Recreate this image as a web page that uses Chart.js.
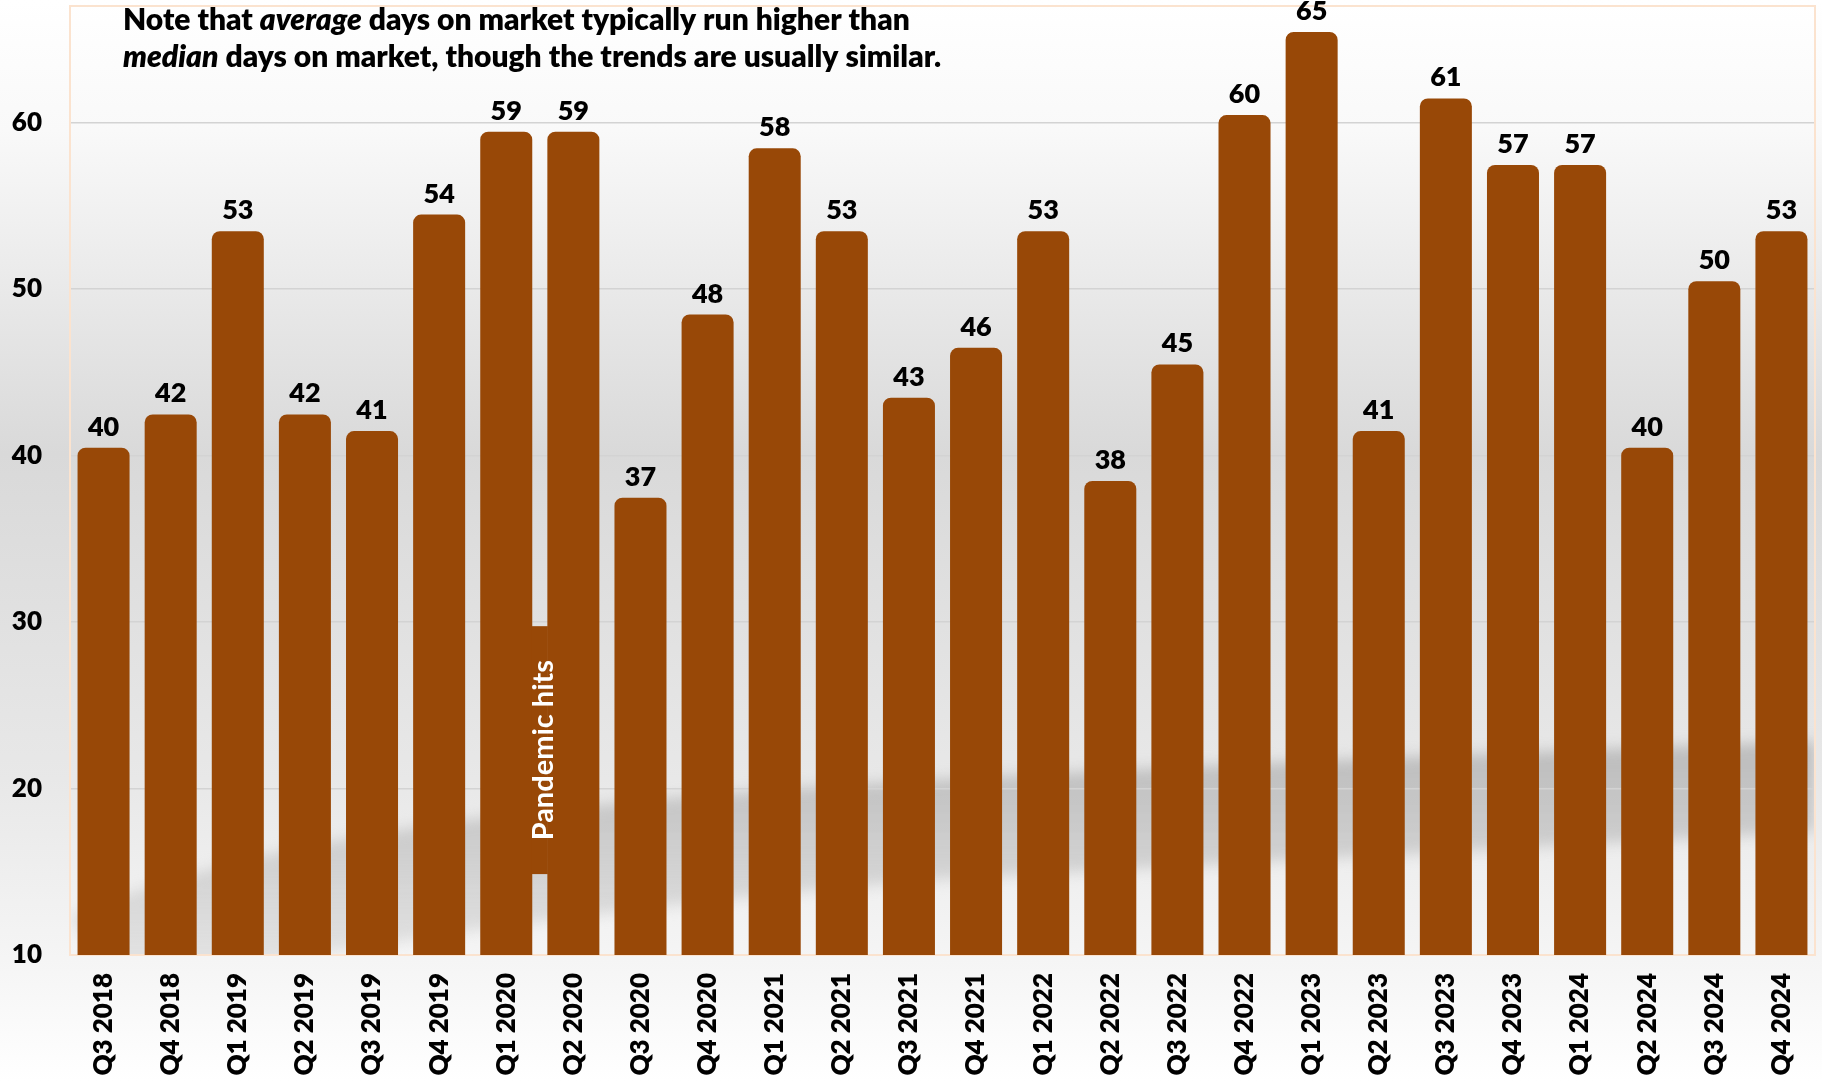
<!DOCTYPE html>
<html><head><meta charset="utf-8">
<script src="https://cdn.jsdelivr.net/npm/chart.js@4.4.1/dist/chart.umd.min.js"></script>
<style>html,body{margin:0;padding:0;background:#fff;overflow:hidden}#wrap{position:relative;width:1822px;height:1081px}</style>
</head><body><div id="wrap"><canvas id="c"></canvas></div>
<script>
// ---- data ----
const categories = ['Q3 2018','Q4 2018','Q1 2019','Q2 2019','Q3 2019','Q4 2019','Q1 2020','Q2 2020','Q3 2020','Q4 2020','Q1 2021','Q2 2021','Q3 2021','Q4 2021','Q1 2022','Q2 2022','Q3 2022','Q4 2022','Q1 2023','Q2 2023','Q3 2023','Q4 2023','Q1 2024','Q2 2024','Q3 2024','Q4 2024'];
const avgDaysOnMarket = [40.47,42.47,53.47,42.47,41.47,54.47,59.45,59.45,37.47,48.47,58.45,53.47,43.47,46.47,53.47,38.47,45.47,60.45,65.44,41.47,61.45,57.45,57.45,40.47,50.47,53.47];
const yTickValues = [10,20,30,40,50,60];
const yMin = 10, yMax = 67;
const noteLine1 = [['Note that ',false],['average',true],[' days on market typically run higher than',false]];
const noteLine2 = [['median',true],[' days on market, though the trends are usually similar.',false]];
const pandemicText = 'Pandemic hits';
const pandemicBetween = [6,7];      // category indices the note sits between
const pandemicRange = [14.86, 29.75]; // value range of the note box

const BAR = '#984807';
const FONT = 'Lato, "Open Sans", sans-serif';
const W8 = '800';

const bgPlugin = {
  id:'bg',
  beforeDraw(chart){
    const {ctx, width, height, chartArea:a} = chart;
    ctx.save();
    const g = ctx.createLinearGradient(0,0,0,height);
    g.addColorStop(0,'#ffffff');
    g.addColorStop(0.12,'#f9f9f9');
    g.addColorStop(0.42,'#d9d9d9');
    g.addColorStop(0.72,'#e8e8e8');
    g.addColorStop(0.9,'#f6f6f6');
    g.addColorStop(1,'#ffffff');
    ctx.fillStyle = g;
    ctx.fillRect(0,0,width,height);
    // decorative soft ribbon shadow in the lower part of the plot
    ctx.beginPath();
    ctx.rect(a.left,a.top,a.right-a.left,a.bottom-a.top);
    ctx.clip();
    const W = a.right-a.left, H = a.bottom-a.top;
    const px = f=>a.left+f*W, py = f=>a.top+f*H;
    ctx.filter = 'blur(7px)';
    ctx.beginPath();
    ctx.moveTo(px(0), py(0.96));
    ctx.bezierCurveTo(px(0.1), py(0.88), px(0.25), py(0.84), px(0.5), py(0.815));
    ctx.bezierCurveTo(px(0.7), py(0.795), px(0.85), py(0.785), px(1.0), py(0.775));
    ctx.lineTo(px(1.0), py(0.87));
    ctx.bezierCurveTo(px(0.85), py(0.885), px(0.7), py(0.9), px(0.5), py(0.92));
    ctx.bezierCurveTo(px(0.3), py(0.95), px(0.12), py(1.0), px(0.03), py(1.04));
    ctx.closePath();
    const sg = ctx.createLinearGradient(0,py(0.77),0,py(1));
    sg.addColorStop(0,'rgba(150,150,150,0.55)');
    sg.addColorStop(0.5,'rgba(175,175,175,0.5)');
    sg.addColorStop(1,'rgba(190,190,190,0.35)');
    ctx.fillStyle = sg;
    ctx.fill();
    ctx.filter = 'none';
    ctx.restore();
  },
  beforeDatasetsDraw(chart){
    const {ctx, chartArea:a} = chart;
    ctx.save();
    ctx.strokeStyle = '#fbe3cf';
    ctx.lineWidth = 2;
    ctx.strokeRect(a.left, a.top, a.right-a.left, a.bottom-a.top);
    ctx.restore();
  }
};

const labelPlugin = {
  id:'labels',
  afterDatasetsDraw(chart){
    const {ctx} = chart;
    const meta = chart.getDatasetMeta(0);
    const ys = chart.scales.y;
    ctx.save();
    // value labels
    ctx.fillStyle = '#000';
    ctx.font = W8 + ' 27px ' + FONT;
    ctx.textAlign = 'center';
    ctx.textBaseline = 'alphabetic';
    meta.data.forEach((el,i)=>{
      ctx.fillText(String(Math.round(avgDaysOnMarket[i])), el.x, el.y - 12);
    });
    // pandemic note
    const b0 = meta.data[pandemicBetween[0]], b1 = meta.data[pandemicBetween[1]];
    const x0 = b0.x + b0.width/2, x1 = b1.x - b1.width/2;
    const yTop = ys.getPixelForValue(pandemicRange[1]), yBot = ys.getPixelForValue(pandemicRange[0]);
    ctx.fillStyle = BAR;
    ctx.fillRect(x0-0.5, yTop, x1-x0+1, yBot-yTop);
    ctx.translate((x0+x1)/2 + 4, (yTop+yBot)/2);
    ctx.rotate(-Math.PI/2);
    ctx.fillStyle = '#fff';
    ctx.font = 'bold 29px ' + FONT;
    ctx.textAlign = 'center';
    ctx.textBaseline = 'middle';
    ctx.fillText(pandemicText, 0, 0);
    ctx.restore();
  },
  afterDraw(chart){
    const {ctx} = chart;
    ctx.save();
    ctx.fillStyle = '#000';
    ctx.textBaseline = 'alphabetic';
    ctx.textAlign = 'left';
    const fontFor = (it,s)=> (it?'italic ':'') + W8 + ' ' + s + 'px ' + FONT;
    const widthOf = (line,s)=> line.reduce((w,[t,it])=>{ctx.font=fontFor(it,s);return w+ctx.measureText(t).width;},0);
    const size = Math.min(33, 100*787/widthOf(noteLine1,100));
    const drawLine = (line,x,y)=>{ line.forEach(([t,it])=>{ctx.font=fontFor(it,size);ctx.fillText(t,x,y);x+=ctx.measureText(t).width;}); };
    drawLine(noteLine1, 123, 30);
    drawLine(noteLine2, 123, 67);
    ctx.restore();
  }
};

function build(){
  new Chart(document.getElementById('c'), {
    type:'bar',
    data:{ labels: categories, datasets:[{
      data: avgDaysOnMarket,
      backgroundColor: BAR,
      borderRadius: {topLeft:8, topRight:8, bottomLeft:0, bottomRight:0},
      borderSkipped: false,
      categoryPercentage: 1.0,
      barPercentage: 0.775
    }]},
    options:{
      responsive:true, maintainAspectRatio:false, animation:false, devicePixelRatio:1,
      layout:{padding:{top:6,right:7,left:0,bottom:0}},
      plugins:{legend:{display:false}, tooltip:{enabled:false}},
      scales:{
        x:{
          grid:{display:false, drawTicks:false}, border:{display:false},
          ticks:{color:'#000', font:{family:FONT, weight:W8, size:26}, minRotation:90, maxRotation:90, padding:18, autoSkip:false},
          afterFit(s){ s.height = 126; s.paddingLeft = 0; s.paddingRight = 0; }
        },
        y:{
          min:yMin, max:yMax,
          grid:{color:'#d3d3d3', lineWidth:1.5, drawTicks:false}, border:{display:false},
          ticks:{color:'#000', font:{family:FONT, weight:W8, size:26}, padding:28, stepSize:10},
          afterBuildTicks(s){ s.ticks = yTickValues.map(v=>({value:v})); },
          afterFit(s){ s.width = 70; s.paddingTop = 0; s.paddingBottom = 0; }
        }
      }
    },
    plugins:[bgPlugin, labelPlugin]
  });
}
const loads = ['800 26px Lato','italic 800 26px Lato','bold 26px Lato'].map(f=>document.fonts.load(f).catch(()=>null));
Promise.all(loads).then(build, build);
</script></body></html>
